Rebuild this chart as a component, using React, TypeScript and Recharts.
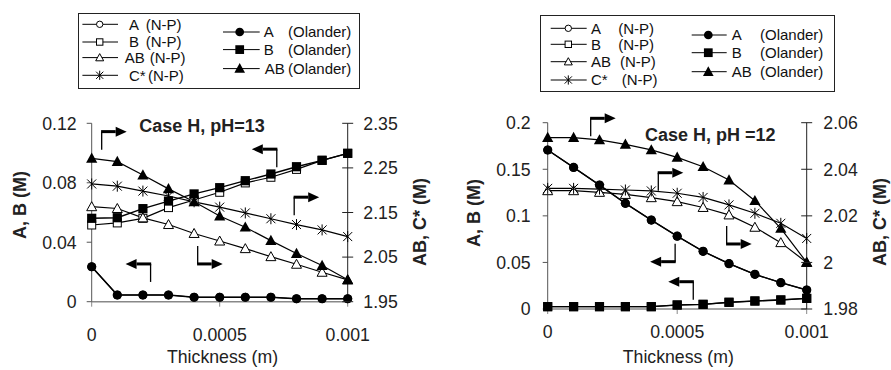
import React from 'react';
import { LineChart, Line, XAxis, YAxis, ReferenceDot, Legend } from 'recharts';

const FONT = '"Liberation Sans", Arial, Helvetica, sans-serif';
const TICK_FONT = 17.7;
const BOLD_FONT = 18;

// Film thickness (m)
const thickness = [0, 0.0001, 0.0002, 0.0003, 0.0004, 0.0005, 0.0006, 0.0007, 0.0008, 0.0009, 0.001];
const xTicks = [0, 0.0005, 0.001];

// Case H, pH = 13
const h13_A_np = [0.0235, 0.0045, 0.0045, 0.0045, 0.003, 0.003, 0.003, 0.003, 0.002, 0.002, 0.002];
const h13_B_np = [0.0516, 0.053, 0.0561, 0.0633, 0.0684, 0.0736, 0.0799, 0.0837, 0.089, 0.0951, 0.0998];
const h13_AB_np = [2.163, 2.159, 2.138, 2.123, 2.103, 2.086, 2.069, 2.051, 2.034, 2.016, 1.999];
const h13_C_np = [2.214, 2.209, 2.198, 2.187, 2.174, 2.162, 2.149, 2.136, 2.123, 2.111, 2.096];
const h13_A_ol = [0.0235, 0.0045, 0.0045, 0.0045, 0.003, 0.003, 0.003, 0.003, 0.002, 0.002, 0.002];
const h13_B_ol = [0.0561, 0.0565, 0.0626, 0.0677, 0.0725, 0.0767, 0.0814, 0.0859, 0.0908, 0.0951, 0.0998];
const h13_AB_ol = [2.2715, 2.264, 2.234, 2.203, 2.174, 2.142, 2.117, 2.087, 2.058, 2.031, 1.999];
const h13_leftTicks = [0, 0.04, 0.08, 0.12];
const h13_rightTicks = [1.95, 2.05, 2.15, 2.25, 2.35];

// Case H, pH = 12
const h12_A_np = [0.1707, 0.152, 0.133, 0.1134, 0.0955, 0.0782, 0.0619, 0.0487, 0.0372, 0.0283, 0.0204];
const h12_B_np = [0.0025, 0.0025, 0.0025, 0.0025, 0.0025, 0.0043, 0.005, 0.0072, 0.0086, 0.0097, 0.0114];
const h12_AB_np = [2.0308, 2.0308, 2.0301, 2.0292, 2.0278, 2.0261, 2.0236, 2.0204, 2.0151, 2.0085, 2.0];
const h12_C_np = [2.0318, 2.0318, 2.0315, 2.0311, 2.0307, 2.0297, 2.0279, 2.0247, 2.0211, 2.0168, 2.0103];
const h12_A_ol = [0.1707, 0.152, 0.133, 0.1134, 0.0955, 0.0782, 0.0619, 0.0487, 0.0372, 0.0283, 0.0204];
const h12_B_ol = [0.0025, 0.0025, 0.0025, 0.0025, 0.0025, 0.0043, 0.005, 0.0072, 0.0086, 0.0097, 0.0114];
const h12_AB_ol = [2.0536, 2.0536, 2.0526, 2.0507, 2.0483, 2.0451, 2.0411, 2.0354, 2.0265, 2.0146, 2.0];
const h12_leftTicks = [0, 0.05, 0.1, 0.15, 0.2];
const h12_rightTicks = [1.98, 2, 2.02, 2.04, 2.06];

// Series names and legend text
const npLabels = ['A', 'B', 'AB', 'C*'];
const olLabels = ['A', 'B', 'AB'];
const npNote = '(N-P)';
const olNote = '(Olander)';

// Axis-pointer arrows: corner point (x, left-axis y), stem direction, arrow direction
const h13_arrows = [
  { x: 0.000039, y: 0.1144, stem: 'down', dir: 'right' },
  { x: 0.000723, y: 0.1026, stem: 'down', dir: 'left' },
  { x: 0.000791, y: 0.0703, stem: 'down', dir: 'right' },
  { x: 0.00023, y: 0.0254, stem: 'down', dir: 'left' },
  { x: 0.000414, y: 0.0254, stem: 'up', dir: 'right' },
];
const h12_arrows = [
  { x: 0.000166, y: 0.2047, stem: 'down', dir: 'right' },
  { x: 0.000427, y: 0.1463, stem: 'down', dir: 'right' },
  { x: 0.000691, y: 0.0698, stem: 'up', dir: 'right' },
  { x: 0.000492, y: 0.0508, stem: 'up', dir: 'left' },
  { x: 0.000562, y: 0.0293, stem: 'down', dir: 'left' },
];

type Kind = 'oCircle' | 'oSquare' | 'oTriangle' | 'star' | 'fCircle' | 'fSquare' | 'fTriangle';

function Marker({ kind, cx, cy, s = 1 }: { kind: Kind; cx: number; cy: number; s?: number }) {
  const sw = 1;
  switch (kind) {
    case 'oCircle':
      return <circle cx={cx} cy={cy} r={4 * s} fill="#fff" stroke="#000" strokeWidth={sw} />;
    case 'oSquare':
      return <rect x={cx - 4 * s} y={cy - 4 * s} width={8 * s} height={8 * s} fill="#fff" stroke="#000" strokeWidth={sw} />;
    case 'oTriangle':
      return (
        <polygon
          points={`${cx},${cy - 5 * s} ${cx + 5 * s},${cy + 4 * s} ${cx - 5 * s},${cy + 4 * s}`}
          fill="#fff"
          stroke="#000"
          strokeWidth={sw}
        />
      );
    case 'star': {
      const a = 4.5 * s;
      return (
        <g stroke="#000" strokeWidth={sw}>
          <line x1={cx - a} y1={cy - a} x2={cx + a} y2={cy + a} />
          <line x1={cx - a} y1={cy + a} x2={cx + a} y2={cy - a} />
          <line x1={cx} y1={cy - a - 1} x2={cx} y2={cy + a + 1} />
        </g>
      );
    }
    case 'fCircle':
      return <circle cx={cx} cy={cy} r={4.6 * s} fill="#000" />;
    case 'fSquare':
      return <rect x={cx - 4.6 * s} y={cy - 4.6 * s} width={9.2 * s} height={9.2 * s} fill="#000" />;
    case 'fTriangle':
      return <polygon points={`${cx},${cy - 5.8 * s} ${cx + 5.6 * s},${cy + 4.4 * s} ${cx - 5.6 * s},${cy + 4.4 * s}`} fill="#000" />;
  }
  return null;
}

const dotOf = (kind: Kind) => (props: any) => {
  const { cx, cy, index } = props;
  if (cx == null || cy == null) return <g key={`d-${kind}-${index}`} />;
  return <Marker key={`d-${kind}-${index}`} kind={kind} cx={cx} cy={cy} />;
};

const npKinds: Kind[] = ['oCircle', 'oSquare', 'oTriangle', 'star'];
const olKinds: Kind[] = ['fCircle', 'fSquare', 'fTriangle'];

type LegendLayout = {
  w: number;
  h: number;
  a: { x1: number; x2: number; sym: number; rows: number[]; label: number[]; note: number[] };
  b: { x1: number; x2: number; sym: number; rows: number[]; label: number[]; note: number[] };
};

function LegendBox({ lay }: { lay: LegendLayout }) {
  const txt = { fontFamily: FONT, fontSize: 15, fill: '#111' } as const;
  return (
    <svg width={lay.w + 1} height={lay.h + 1} style={{ display: 'block', overflow: 'visible' }}>
      <rect x={0.5} y={0.5} width={lay.w} height={lay.h} fill="#fff" stroke="#222" strokeWidth={1} />
      {npLabels.map((lab, i) => {
        const y = lay.a.rows[i];
        return (
          <g key={`np-${lab}`}>
            <line x1={lay.a.x1} x2={lay.a.x2} y1={y} y2={y} stroke="#000" strokeWidth={1} />
            <Marker kind={npKinds[i]} cx={lay.a.sym} cy={y} s={0.8} />
            <text x={lay.a.label[i]} y={y} dy="0.36em" {...txt}>{lab}</text>
            <text x={lay.a.note[i]} y={y} dy="0.36em" {...txt}>{npNote}</text>
          </g>
        );
      })}
      {olLabels.map((lab, i) => {
        const y = lay.b.rows[i];
        return (
          <g key={`ol-${lab}`}>
            <line x1={lay.b.x1} x2={lay.b.x2} y1={y} y2={y} stroke="#000" strokeWidth={1} />
            <Marker kind={olKinds[i]} cx={lay.b.sym} cy={y} s={0.95} />
            <text x={lay.b.label[i]} y={y} dy="0.36em" {...txt}>{lab}</text>
            <text x={lay.b.note[i]} y={y} dy="0.36em" {...txt}>{olNote}</text>
          </g>
        );
      })}
    </svg>
  );
}

function ArrowShape(props: any) {
  const { cx, cy, stem, dir } = props;
  if (cx == null || cy == null) return <g />;
  const stemLen = 18;
  const len = 25;
  const head = 11;
  const sgn = dir === 'right' ? 1 : -1;
  const sy = stem === 'down' ? cy + stemLen : cy - stemLen;
  const tip = cx + sgn * len;
  const base = tip - sgn * head;
  return (
    <g>
      <line x1={cx} y1={sy} x2={cx} y2={cy} stroke="#000" strokeWidth={1.3} />
      <line x1={cx - sgn * 0.6} y1={cy} x2={base} y2={cy} stroke="#000" strokeWidth={3} />
      <polygon points={`${tip},${cy} ${base},${cy - 5} ${base},${cy + 5}`} fill="#000" />
    </g>
  );
}

type PanelProps = {
  width: number;
  margin: { top: number; right: number; bottom: number; left: number };
  rows: any[];
  leftDomain: [number, number];
  leftTicks: number[];
  rightDomain: [number, number];
  rightTicks: number[];
  leftTickMargin: number;
  rightTickMargin: number;
  xTickMargin: number;
  arrows: { x: number; y: number; stem: string; dir: string }[];
  title: string;
  titlePos: [number, number];
  leftLabelPos: [number, number];
  rightLabelPos: [number, number];
  xLabelPos: [number, number];
  legendPos: [number, number];
  legendLayout: LegendLayout;
};

const TICK = 5;

function Panel(p: PanelProps) {
  const RightTick = (tp: any) => {
    const { x, y, payload } = tp;
    const ax = x - TICK - p.rightTickMargin;
    return (
      <g>
        <line x1={ax - 5.5} x2={ax + 5.5} y1={y} y2={y} stroke="#222" strokeWidth={1} />
        <text x={x} y={y} dy="0.355em" textAnchor="start" fontFamily={FONT} fontSize={TICK_FONT} fill="#222">
          {String(payload.value)}
        </text>
      </g>
    );
  };
  const labelStyle = { fontFamily: FONT, fontSize: BOLD_FONT, fontWeight: 700, fill: '#222' } as const;
  return (
    <LineChart width={p.width} height={370} data={p.rows} margin={p.margin}>
      <XAxis
        dataKey="x"
        type="number"
        domain={[0, 0.001]}
        ticks={xTicks}
        tickFormatter={(v: number) => String(v)}
        height={30}
        tickSize={TICK}
        tickMargin={p.xTickMargin}
        axisLine={{ stroke: '#888', strokeWidth: 1.6 }}
        tickLine={{ stroke: '#888' }}
        tick={{ fill: '#222', fontSize: TICK_FONT, fontFamily: FONT }}
      />
      <YAxis
        yAxisId="l"
        orientation="left"
        domain={p.leftDomain}
        ticks={p.leftTicks}
        width={60}
        tickSize={TICK}
        tickMargin={p.leftTickMargin}
        axisLine={{ stroke: '#555' }}
        tickLine={{ stroke: '#555' }}
        tick={{ fill: '#222', fontSize: TICK_FONT, fontFamily: FONT }}
        tickFormatter={(v: number) => String(v)}
      />
      <YAxis
        yAxisId="r"
        orientation="right"
        domain={p.rightDomain}
        ticks={p.rightTicks}
        width={60}
        tickSize={TICK}
        tickMargin={p.rightTickMargin}
        axisLine={{ stroke: '#222' }}
        tickLine={false}
        tick={RightTick}
      />
      <Legend
        layout="vertical"
        align="center"
        verticalAlign="middle"
        wrapperStyle={{ left: p.legendPos[0], top: p.legendPos[1], width: p.legendLayout.w + 2, height: p.legendLayout.h + 2 }}
        content={() => <LegendBox lay={p.legendLayout} />}
      />
      <Line yAxisId="l" dataKey="aNP" name="A (N-P)" stroke="#000" strokeWidth={1.2} dot={dotOf('oCircle')} isAnimationActive={false} />
      <Line yAxisId="l" dataKey="bNP" name="B (N-P)" stroke="#000" strokeWidth={1.2} dot={dotOf('oSquare')} isAnimationActive={false} />
      <Line yAxisId="r" dataKey="abNP" name="AB (N-P)" stroke="#000" strokeWidth={1.2} dot={dotOf('oTriangle')} isAnimationActive={false} />
      <Line yAxisId="r" dataKey="cNP" name="C* (N-P)" stroke="#000" strokeWidth={1.2} dot={dotOf('star')} isAnimationActive={false} />
      <Line yAxisId="l" dataKey="aOl" name="A (Olander)" stroke="#000" strokeWidth={1.4} dot={dotOf('fCircle')} isAnimationActive={false} />
      <Line yAxisId="l" dataKey="bOl" name="B (Olander)" stroke="#000" strokeWidth={1.4} dot={dotOf('fSquare')} isAnimationActive={false} />
      <Line yAxisId="r" dataKey="abOl" name="AB (Olander)" stroke="#000" strokeWidth={1.2} dot={dotOf('fTriangle')} isAnimationActive={false} />
      {p.arrows.map((a, i) => (
        <ReferenceDot
          key={`arrow-${i}`}
          yAxisId="l"
          x={a.x}
          y={a.y}
          r={1}
          ifOverflow="visible"
          shape={(sp: any) => <ArrowShape {...sp} stem={a.stem} dir={a.dir} />}
        />
      ))}
      <text x={p.titlePos[0]} y={p.titlePos[1]} {...labelStyle}>{p.title}</text>
      <text
        x={p.leftLabelPos[0]}
        y={p.leftLabelPos[1]}
        dy="0.36em"
        textAnchor="middle"
        transform={`rotate(-90 ${p.leftLabelPos[0]} ${p.leftLabelPos[1]})`}
        {...labelStyle}
      >
        A, B (M)
      </text>
      <text
        x={p.rightLabelPos[0]}
        y={p.rightLabelPos[1]}
        dy="0.36em"
        textAnchor="middle"
        transform={`rotate(-90 ${p.rightLabelPos[0]} ${p.rightLabelPos[1]})`}
        {...labelStyle}
      >
        AB, C* (M)
      </text>
      <text x={p.xLabelPos[0]} y={p.xLabelPos[1]} dy="0.36em" textAnchor="middle" fontFamily={FONT} fontSize={TICK_FONT} fill="#222">
        Thickness (m)
      </text>
    </LineChart>
  );
}

function buildRows(aNP: number[], bNP: number[], abNP: number[], cNP: number[], aOl: number[], bOl: number[], abOl: number[]) {
  return thickness.map((x, i) => ({
    x,
    aNP: aNP[i],
    bNP: bNP[i],
    abNP: abNP[i],
    cNP: cNP[i],
    aOl: aOl[i],
    bOl: bOl[i],
    abOl: abOl[i],
  }));
}

const rows13 = buildRows(h13_A_np, h13_B_np, h13_AB_np, h13_C_np, h13_A_ol, h13_B_ol, h13_AB_ol);
const rows12 = buildRows(h12_A_np, h12_B_np, h12_AB_np, h12_C_np, h12_A_ol, h12_B_ol, h12_AB_ol);

const legend13: LegendLayout = {
  w: 281,
  h: 75,
  a: { x1: 4.4, x2: 40, sym: 21.7, rows: [11.3, 29, 44.6, 62.3], label: [51, 51, 46.7, 51], note: [67.7, 67.7, 71.7, 70] },
  b: { x1: 145, x2: 181.7, sym: 161.7, rows: [19, 36.6, 55.6], label: [185.7, 185.7, 186.7], note: [210, 210, 210] },
};
const legend12: LegendLayout = {
  w: 294,
  h: 76,
  a: { x1: 10.7, x2: 46.7, sym: 28.3, rows: [13.3, 29.3, 46.7, 65], label: [51, 51, 51, 51], note: [78.3, 78.3, 80, 81.7] },
  b: { x1: 151.7, x2: 186.7, sym: 168.3, rows: [20, 37.7, 56.7], label: [191.7, 191.7, 191.7], note: [220, 220, 220] },
};

export default function App() {
  return (
    <div style={{ position: 'absolute', left: 0, top: 0, width: 891, height: 370, background: '#fff', overflow: 'hidden' }}>
      <div style={{ position: 'absolute', left: 0, top: 0 }}>
        <Panel
          width={445}
          margin={{ top: 123.3, right: 37.3, bottom: 38.3, left: 31.7 }}
          rows={rows13}
          leftDomain={[0, 0.12]}
          leftTicks={h13_leftTicks}
          rightDomain={[1.95, 2.35]}
          rightTicks={h13_rightTicks}
          leftTickMargin={10}
          rightTickMargin={10.6}
          xTickMargin={22}
          arrows={h13_arrows}
          title="Case H, pH=13"
          titlePos={[139.3, 131.5]}
          leftLabelPos={[20, 205]}
          rightLabelPos={[420, 222]}
          xLabelPos={[222.5, 356.7]}
          legendPos={[78.3, 12.7]}
          legendLayout={legend13}
        />
      </div>
      <div style={{ position: 'absolute', left: 445, top: 0 }}>
        <Panel
          width={446}
          margin={{ top: 122.7, right: 24.3, bottom: 31, left: 42.7 }}
          rows={rows12}
          leftDomain={[0, 0.2]}
          leftTicks={h12_leftTicks}
          rightDomain={[1.98, 2.06]}
          rightTicks={h12_rightTicks}
          leftTickMargin={12}
          rightTickMargin={11.6}
          xTickMargin={11.5}
          arrows={h12_arrows}
          title="Case H, pH =12"
          titlePos={[200, 140.5]}
          leftLabelPos={[28.3, 213]}
          rightLabelPos={[435, 222]}
          xLabelPos={[233.3, 356.7]}
          legendPos={[95, 15]}
          legendLayout={legend12}
        />
      </div>
    </div>
  );
}
